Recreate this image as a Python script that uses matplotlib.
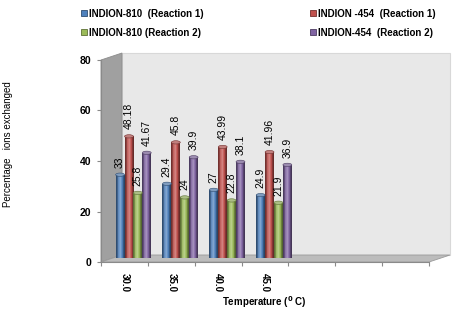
import numpy as np
import matplotlib
matplotlib.use('Agg')
import matplotlib.pyplot as plt
import matplotlib.transforms as mtransforms
from matplotlib.patches import Polygon, Rectangle, Ellipse
from matplotlib.colors import LinearSegmentedColormap, to_rgb
from matplotlib.lines import Line2D

plt.rcParams['font.family'] = ['Liberation Sans', 'DejaVu Sans']

# data
temps = ['30.0', '35.0', '40.0', '45.0']
n_slots = 7
series_names = ['INDION-810  (Reaction 1)', 'INDION -454  (Reaction 1)',
                'INDION-810 (Reaction 2)', 'INDION-454  (Reaction 2)']
ind810_r1 = [33, 29.4, 27, 24.9]
ind454_r1 = [48.18, 45.8, 43.99, 41.96]
ind810_r2 = [25.8, 24, 22.8, 21.9]
ind454_r2 = [41.67, 39.9, 38.1, 36.9]
colors = ['#4f81bd', '#c0504d', '#9bbb59', '#8064a2']

DPI = 100
fig = plt.figure(figsize=(4.55, 3.12), dpi=DPI)
ax = fig.add_axes([101/455, 50/312, 328/455, 202/312])
ax.set_xlim(0, n_slots)
ax.set_ylim(0, 80)


def shift(dx, dy):
    # pixel offset used to fake the 3d depth
    return mtransforms.ScaledTranslation(dx/DPI, dy/DPI, fig.dpi_scale_trans)


depth = (21, 7)
bar_off = (9, 4)
ident = mtransforms.IdentityTransform()

# walls and floor
ax.add_patch(Rectangle((0, 0), n_slots, 80, transform=ax.transData + shift(*depth),
                       facecolor='#e8e8e8', edgecolor='#d8d8d8', lw=0.8, zorder=0, clip_on=False))
p = ax.transData.transform([(0, 0), (0, 80), (n_slots, 0)])
d = np.array(depth)
ax.add_patch(Polygon([p[0], p[1], p[1] + d, p[0] + d], closed=True, transform=ident,
                     facecolor='#a0a0a0', edgecolor='#8c8c8c', lw=0.6, zorder=0.5, clip_on=False))
ax.add_patch(Polygon([p[0], p[2], p[2] + d, p[0] + d], closed=True, transform=ident,
                     facecolor='#bcbcbc', edgecolor='#9a9a9a', lw=0.6, zorder=0.6, clip_on=False))

# bars
values = [ind810_r1, ind454_r1, ind810_r2, ind454_r2]
w = 0.19
bar_tr = ax.transData + shift(*bar_off)
lab_tr = ax.transData + shift(bar_off[0], bar_off[1] + 7)
grad = np.array([[0.0, 0.35, 0.55, 0.75, 1.0]])
for k, (vals, c) in enumerate(zip(values, colors)):
    base = np.array(to_rgb(c))
    dark = base * 0.6
    light = base + (1 - base) * 0.35
    cmap = LinearSegmentedColormap.from_list('cyl', [dark, base, light, base, dark * 0.9])
    xs = np.arange(len(vals)) + 0.5 + (k - 1.5) * w
    for xc, v in zip(xs, vals):
        r = Rectangle((xc - w/2, 0), w, v, transform=bar_tr, facecolor=c,
                      edgecolor='none', zorder=3, clip_on=False)
        ax.add_patch(r)
        im = ax.imshow(grad, extent=(xc - w/2, xc + w/2, 0, v), transform=bar_tr,
                       cmap=cmap, aspect='auto', interpolation='bilinear', zorder=3.1)
        im.set_clip_path(r)
        ax.add_patch(Ellipse((xc, v), w, 1.3, transform=bar_tr, facecolor=light * 0.9,
                             edgecolor=dark, lw=0.4, zorder=3.2, clip_on=False))
        ax.text(xc, v, f'{v:g}', transform=lab_tr, rotation=90, ha='center', va='bottom',
                fontsize=7.5, zorder=5)

ax.set_xlim(0, n_slots)
ax.set_ylim(0, 80)

# axes styling
for s in ['top', 'right']:
    ax.spines[s].set_visible(False)
for s in ['left', 'bottom']:
    ax.spines[s].set_color('#8a8a8a')
    ax.spines[s].set_zorder(2)
ax.set_yticks([0, 20, 40, 60, 80])
ax.tick_params(axis='y', length=3, color='#8a8a8a', pad=4, labelsize=7.5)
for t in ax.get_yticklabels():
    t.set_fontweight('bold')
ax.set_xticks(np.arange(n_slots + 1))
ax.set_xticklabels([])
ax.set_xticks(np.arange(n_slots) + 0.5, minor=True)
ax.set_xticklabels(temps + [''] * (n_slots - len(temps)), minor=True,
                   rotation=-90, fontsize=7, fontweight='bold', va='top')
ax.tick_params(axis='x', which='major', length=3, color='#8a8a8a')
ax.tick_params(axis='x', which='minor', length=0, pad=8)

fig.text(8/455, 1 - 144/312, 'Percentage   ions exchanged', rotation=90,
         ha='center', va='center', fontsize=7)
fig.text(264/455, 1 - 302/312, r'Temperature ($\mathbf{^0}$ C)', ha='center', va='center',
         fontsize=7, fontweight='bold')

# legend in two columns
handles = [Line2D([], [], marker='s', ls='none', markersize=5, markerfacecolor=c,
                  markeredgecolor=np.array(to_rgb(c)) * 0.6, markeredgewidth=0.6) for c in colors]
leg_kw = dict(frameon=False, handlelength=0.7, handletextpad=0.15,
              labelspacing=0.9, borderaxespad=0, prop={'weight': 'bold', 'size': 7})
leg1 = fig.legend([handles[0], handles[2]], [series_names[0], series_names[2]],
                  loc='upper left', bbox_to_anchor=(77/455, 1 - 5/312), **leg_kw)
leg2 = fig.legend([handles[1], handles[3]], [series_names[1], series_names[3]],
                  loc='upper left', bbox_to_anchor=(306/455, 1 - 5/312), **leg_kw)

fig.savefig('out.png', dpi=DPI)
